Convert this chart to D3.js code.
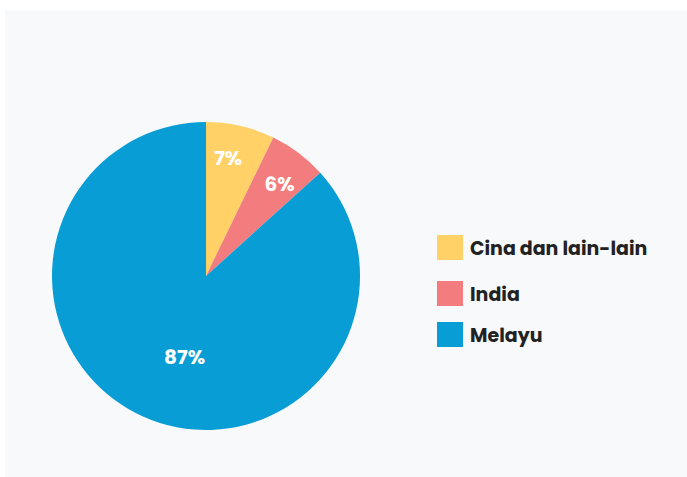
<!DOCTYPE html>
<html>
<head>
<meta charset="utf-8">
<script src="https://cdn.jsdelivr.net/npm/d3@7"></script>
<style>
  body { margin: 0; background: #fff; }
  #chart { width: 687px; height: 477px; }
  text { font-family: Poppins, Inter, "Open Sans", sans-serif; font-weight: 700; }
</style>
</head>
<body>
<div id="chart"></div>
<script>
// ethnic share (%)
const groups = ["Cina dan lain-lain", "India", "Melayu"];
const shares = [7.2, 6.1, 86.7];
const labels = ["7%", "6%", "87%"];
const colours = ["#FFD166", "#F27C7E", "#089DD5"];

const width = 687,
      height = 477;

let svg = d3.select("#chart")
    .append("svg")
    .attr("width", width)
    .attr("height", height);

// light panel behind everything
svg.append("rect")
    .attr("x", 5)
    .attr("y", 10)
    .attr("width", width - 5)
    .attr("height", height - 10)
    .attr("fill", "#F8F9FB");

const cx = 206, cy = 276, r = 154;

let color = d3.scaleOrdinal().domain(groups).range(colours);

let data = groups.map((g, i) => ({ group: g, value: shares[i], label: labels[i] }));

let pie = d3.pie().sort(null).value(d => d.value);
let arc = d3.arc().innerRadius(0).outerRadius(r);

let g = svg.append("g")
    .attr("transform", `translate(${cx},${cy})`);

let slices = pie(data);

g.selectAll("path")
    .data(slices)
    .join("path")
    .attr("d", arc)
    .attr("fill", d => color(d.data.group));

// label placement: radius + small angle nudge per slice
const labelR = [120, 118, 84],
      nudge = [-0.04, 0.03, -0.16];

g.selectAll(".lbl")
    .data(slices)
    .join("text")
    .attr("class", "lbl")
    .attr("transform", (d, i) => {
        let a = (d.startAngle + d.endAngle) / 2 + nudge[i];
        return `translate(${labelR[i] * Math.sin(a)},${-labelR[i] * Math.cos(a)})`;
    })
    .attr("text-anchor", "middle")
    .attr("dy", "0.35em")
    .attr("fill", "#fff")
    .style("font-size", "20px")
    .text(d => d.data.label);

// legend
const legendTops = [235, 281, 322];
let legend = svg.selectAll(".legend")
    .data(data)
    .join("g")
    .attr("class", "legend")
    .attr("transform", (d, i) => `translate(437,${legendTops[i]})`);

legend.append("rect")
    .attr("width", 26)
    .attr("height", 25)
    .attr("fill", d => color(d.group));

legend.append("text")
    .attr("x", 33)
    .attr("y", 13)
    .attr("dy", "0.35em")
    .attr("fill", "#222")
    .style("font-size", "19px")
    .text(d => d.group);
</script>
</body>
</html>
